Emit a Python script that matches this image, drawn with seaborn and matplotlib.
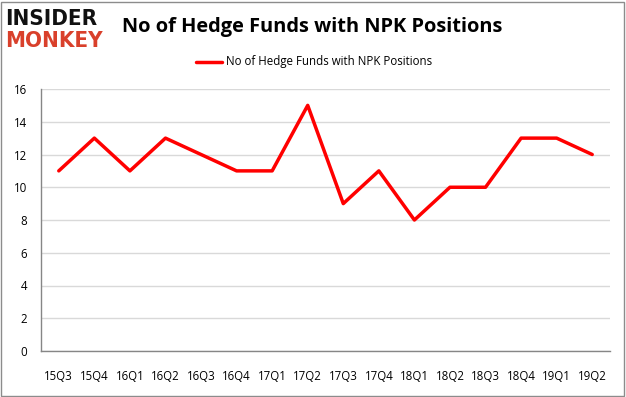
import matplotlib
matplotlib.use('Agg')
import matplotlib.pyplot as plt
import seaborn as sns
import pandas as pd
import numpy as np
from matplotlib.patches import Rectangle

quarters = ['15Q3', '15Q4', '16Q1', '16Q2', '16Q3', '16Q4', '17Q1', '17Q2',
            '17Q3', '17Q4', '18Q1', '18Q2', '18Q3', '18Q4', '19Q1', '19Q2']
funds = [11, 13, 11, 13, 12, 11, 11, 15, 9, 11, 8, 10, 10, 13, 13, 12]
yticks = [0, 2, 4, 6, 8, 10, 12, 14, 16]
series_name = 'No of Hedge Funds with NPK Positions'

df = pd.DataFrame({'quarter': quarters, 'funds': funds, 'pos': np.arange(len(quarters))})

sns.set_style('white')
plt.rcParams['font.family'] = ['Open Sans', 'DejaVu Sans']
plt.rcParams['text.color'] = 'black'
plt.rcParams['xtick.color'] = 'black'
plt.rcParams['ytick.color'] = 'black'

fig = plt.figure(figsize=(6.26, 3.97), dpi=100)
ax = fig.add_axes([41 / 626, 46 / 397, 569 / 626, 262 / 397])

sns.lineplot(data=df, x='pos', y='funds', color='#ff0000', linewidth=2.5,
             ax=ax, legend=False)

ax.set_xlim(-0.5, len(quarters) - 0.5)
ax.set_ylim(0, 16)
ax.set_yticks(yticks)
ax.set_yticklabels([str(v) for v in yticks], fontsize=8.3)
ax.yaxis.grid(True, color='#d9d9d9', linewidth=1)
ax.set_axisbelow(True)

ax.set_xticks(np.arange(len(quarters)))
ax.set_xticklabels(quarters, fontsize=8.3)
ax.set_xticks(np.arange(-0.5, len(quarters)), minor=True)
ax.tick_params(axis='x', which='major', length=0, pad=14)
ax.tick_params(axis='x', which='minor', length=4, color='#868686', direction='out')
ax.tick_params(axis='y', length=4, color='#868686', labelcolor='black', direction='out', pad=6)
ax.set_xlabel('')
ax.set_ylabel('')

for s in ['top', 'right']:
    ax.spines[s].set_visible(False)
for s in ['left', 'bottom']:
    ax.spines[s].set_color('#868686')
    ax.spines[s].set_linewidth(1)

# legend
leg_y = 1 - 62 / 397
fig.lines.append(plt.Line2D([196 / 626, 222 / 626], [leg_y, leg_y], color='#ff0000',
                            linewidth=2.5, transform=fig.transFigure))
fig.text(226 / 626, leg_y, series_name, fontsize=8.3, va='center', ha='left')

# title and logo
fig.text(122 / 626, 1 - 27 / 397, 'No of Hedge Funds with NPK Positions', fontsize=14.4,
         fontweight='bold', va='center', ha='left')
fig.text(5 / 626, 1 - 19 / 397, 'INSIDER', fontsize=16, fontweight='heavy',
         fontstretch='condensed', color='#111111', va='center', ha='left',
         family=['DejaVu Sans'])
fig.text(5 / 626, 1 - 41 / 397, 'MONKEY', fontsize=16, fontweight='heavy',
         fontstretch='condensed', color='#d9402b', va='center', ha='left',
         family=['DejaVu Sans'])

fig.patches.append(Rectangle((0.002, 0.002), 0.995, 0.994, transform=fig.transFigure,
                             fill=False, edgecolor='#8c8c8c', linewidth=1))

fig.savefig('out.png', dpi=100)
